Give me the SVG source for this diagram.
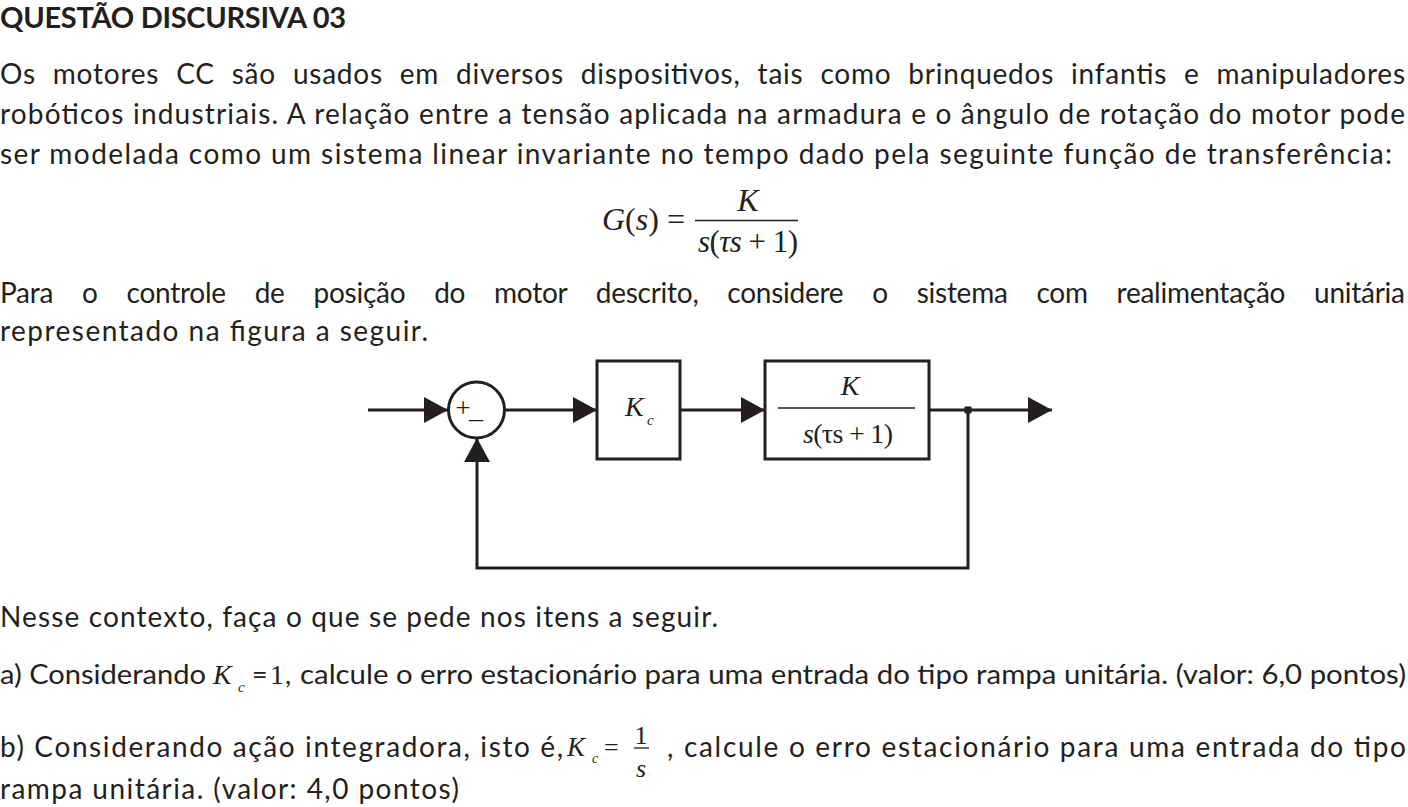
<svg xmlns="http://www.w3.org/2000/svg" width="1408" height="807" viewBox="0 0 1408 807">
<defs>
<style>
.t{font-family:Lato,"Open Sans","Liberation Sans",sans-serif;font-size:28px;fill:#231f20}
.tb{font-family:Lato,"Open Sans","Liberation Sans",sans-serif;font-size:29px;font-weight:bold;fill:#231f20}
.q{font-family:Lato,"Open Sans","Liberation Sans",sans-serif;font-size:27px;fill:#231f20}
.m{font-family:"Liberation Serif","DejaVu Serif",serif;fill:#231f20}
.i{font-style:italic}
.ln{fill:none;stroke:#231f20;stroke-width:3}
.box{fill:#fff;stroke:#231f20;stroke-width:3}
</style>
<marker id="ah" markerUnits="userSpaceOnUse" markerWidth="24" markerHeight="26" refX="24" refY="13" orient="auto">
<path d="M0,0 L24,13 L0,26 Z" fill="#231f20"/>
</marker>
</defs>
<rect width="1408" height="807" fill="#fff"/>

<text class="tb" x="0" y="28" textLength="346" lengthAdjust="spacing">QUESTÃO DISCURSIVA 03</text>
<text class="t" x="0" y="84" word-spacing="9" textLength="1405" lengthAdjust="spacing">Os motores CC são usados em diversos dispositivos, tais como brinquedos infantis e manipuladores</text>
<text class="t" x="0" y="124" textLength="1405" lengthAdjust="spacing">robóticos industriais. A relação entre a tensão aplicada na armadura e o ângulo de rotação do motor pode</text>
<text class="t" x="0" y="164" textLength="1392" lengthAdjust="spacing">ser modelada como um sistema linear invariante no tempo dado pela seguinte função de transferência:</text>

<g id="formula">
<text class="m" font-size="32" x="602" y="230"><tspan class="i">G</tspan>(<tspan class="i">s</tspan>) =</text>
<text class="m i" font-size="32" x="748" y="211" text-anchor="middle">K</text>
<line x1="695" y1="220.500" x2="798" y2="220.500" stroke="#231f20" stroke-width="1.5"/>
<text class="m" font-size="31" x="748" y="252" text-anchor="middle" textLength="100" lengthAdjust="spacing"><tspan class="i">s</tspan>(<tspan class="i">τs</tspan> + 1)</text>
</g>

<text class="t" x="0" y="303" word-spacing="22" textLength="1405" lengthAdjust="spacing">Para o controle de posição do motor descrito, considere o sistema com realimentação unitária</text>
<text class="t" x="0" y="341" textLength="428" lengthAdjust="spacing">representado na figura a seguir.</text>

<g id="connectors">
<path class="ln" d="M368,410 H448" marker-end="url(#ah)"/>
<path class="ln" d="M505,410 H597" marker-end="url(#ah)"/>
<path class="ln" d="M680,410 H765" marker-end="url(#ah)"/>
<path class="ln" d="M929,410 H1052" marker-end="url(#ah)"/>
<path class="ln" d="M968,410 V568 H477 V438" marker-end="url(#ah)"/>
<rect x="964.500" y="406.500" width="7" height="7" fill="#231f20"/>
</g>

<g id="sum">
<circle class="box" cx="476.500" cy="410" r="28"/>
<text class="m" font-size="27" x="463" y="417" text-anchor="middle">+</text>
<text class="m" font-size="28" x="476" y="418" text-anchor="middle">_</text>
</g>

<g id="kc">
<rect class="box" x="597" y="361" width="83" height="98"/>
<text class="m i" font-size="28" x="625" y="416">K</text>
<text class="m i" font-size="15" x="647" y="425">c</text>
</g>

<g id="plant">
<rect class="box" x="765" y="361" width="164" height="98"/>
<text class="m i" font-size="28" x="850" y="395" text-anchor="middle">K</text>
<line x1="778" y1="408" x2="915" y2="408" stroke="#231f20" stroke-width="1.5"/>
<text class="m" font-size="28" x="848" y="443" text-anchor="middle" textLength="90" lengthAdjust="spacing"><tspan class="i">s</tspan>(τs + 1)</text>
</g>

<text class="t" x="0" y="627" textLength="718" lengthAdjust="spacing">Nesse contexto, faça o que se pede nos itens a seguir.</text>

<g id="item-a">
<text class="q" x="0" y="684" textLength="206" lengthAdjust="spacingAndGlyphs">a) Considerando</text>
<text class="m i" font-size="28" x="213" y="684">K</text>
<text class="m i" font-size="15" x="238" y="692">c</text>
<text class="q" x="252" y="684">=</text>
<text class="m" font-size="28" x="270" y="684">1</text>
<text class="q" x="285" y="684">,</text>
<text class="q" x="300" y="684" textLength="1106" lengthAdjust="spacingAndGlyphs">calcule o erro estacionário para uma entrada do tipo rampa unitária. (valor: 6,0 pontos)</text>
</g>

<g id="item-b">
<text class="t" x="0" y="757" textLength="563" lengthAdjust="spacing">b) Considerando ação integradora, isto é,</text>
<text class="m i" font-size="27" x="567" y="756">K</text>
<text class="m i" font-size="14" x="592" y="763">c</text>
<text class="m" font-size="26" x="604" y="756">=</text>
<text class="m" font-size="26" x="641" y="744" text-anchor="middle">1</text>
<line x1="634" y1="748" x2="649" y2="748" stroke="#231f20" stroke-width="1.3"/>
<text class="m i" font-size="26" x="641" y="777" text-anchor="middle">s</text>
<text class="t" x="667" y="757" textLength="739" lengthAdjust="spacing">, calcule o erro estacionário para uma entrada do tipo</text>
<text class="t" x="0" y="799" textLength="459" lengthAdjust="spacing">rampa unitária. (valor: 4,0 pontos)</text>
</g>
</svg>
